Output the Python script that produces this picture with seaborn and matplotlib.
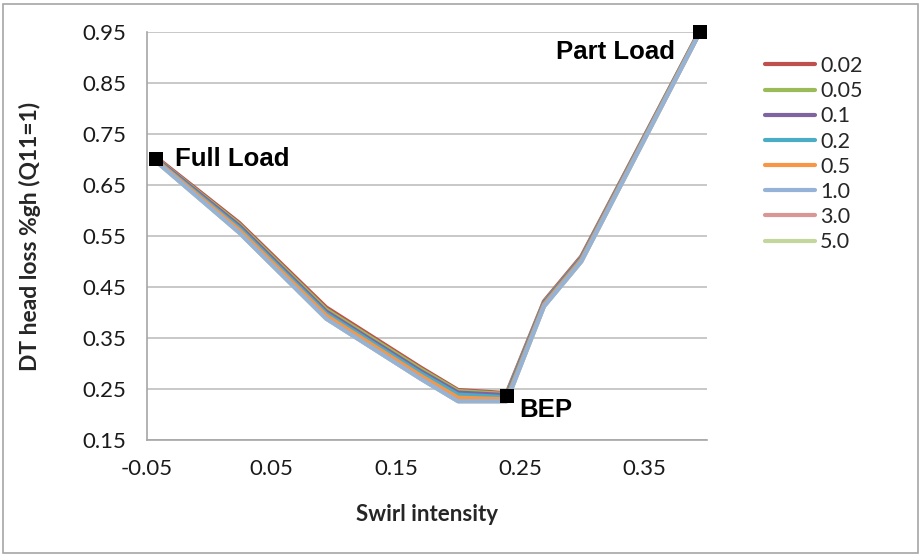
import matplotlib
matplotlib.use("Agg")
import matplotlib.pyplot as plt
import seaborn as sns
import pandas as pd
from matplotlib.patches import Rectangle

# ---- data ----
swirl = [-0.043, 0.024, 0.094, 0.170, 0.200, 0.239, 0.269, 0.299, 0.394]
series_names = ["0.02", "0.05", "0.1", "0.2", "0.5", "1.0", "3.0", "5.0"]
loss_002 = [0.705, 0.576, 0.410, 0.292, 0.248, 0.242, 0.422, 0.510, 0.952]
loss_005 = [0.703, 0.573, 0.406, 0.289, 0.246, 0.240, 0.420, 0.508, 0.951]
loss_01 = [0.702, 0.570, 0.402, 0.285, 0.243, 0.238, 0.419, 0.507, 0.950]
loss_02 = [0.700, 0.566, 0.398, 0.281, 0.239, 0.234, 0.417, 0.505, 0.950]
loss_05 = [0.699, 0.562, 0.394, 0.276, 0.233, 0.230, 0.415, 0.503, 0.949]
loss_10 = [0.697, 0.557, 0.388, 0.270, 0.226, 0.226, 0.412, 0.500, 0.948]
loss_30 = [0.697, 0.557, 0.388, 0.270, 0.226, 0.226, 0.412, 0.500, 0.948]
loss_50 = [0.697, 0.557, 0.388, 0.270, 0.226, 0.226, 0.412, 0.500, 0.948]
series_values = [loss_002, loss_005, loss_01, loss_02, loss_05, loss_10, loss_30, loss_50]
colors = ["#C0504D", "#9BBB59", "#8064A2", "#4BACC6", "#F79646", "#95B3D7", "#D99694", "#C3D69B"]

point_names = ["Full Load", "BEP", "Part Load"]
point_x = [-0.043, 0.239, 0.394]
point_y = [0.701, 0.236, 0.950]

xticks = [-0.05, 0.05, 0.15, 0.25, 0.35]
yticks = [0.15, 0.25, 0.35, 0.45, 0.55, 0.65, 0.75, 0.85, 0.95]

# ---- figure ----
sns.set_theme(style="white")
plt.rcParams["font.family"] = ["Lato", "DejaVu Sans"]

fig = plt.figure(figsize=(9.22, 5.59), dpi=100)
ax = fig.add_axes([147 / 922, 1 - 440 / 559, 560 / 922, 408 / 559])

zorders = [2.0, 2.1, 2.2, 2.3, 2.4, 2.9, 1.8, 1.9]
for name, vals, col, z in zip(series_names, series_values, colors, zorders):
    df = pd.DataFrame({"swirl": swirl, "loss": vals})
    sns.lineplot(data=df, x="swirl", y="loss", ax=ax, color=col, lw=3.0,
                 sort=False, label=name, zorder=z, estimator=None)

pts = pd.DataFrame({"x": point_x, "y": point_y, "name": point_names})
sns.scatterplot(data=pts, x="x", y="y", ax=ax, marker="s", s=110, color="black",
                edgecolor="black", linewidth=0, zorder=5, legend=False, clip_on=False)

offsets = {"Full Load": ((14, 0), "left", "center"),
           "BEP": ((9, -10), "left", "center"),
           "Part Load": ((-18, -6), "right", "top")}
for nm, px, py in zip(point_names, point_x, point_y):
    off, ha, va = offsets[nm]
    ax.annotate(nm, (px, py), xytext=off, textcoords="offset points",
                ha=ha, va=va, fontsize=18.5, fontweight="bold",
                family=["Liberation Sans", "DejaVu Sans"], color="black", zorder=6)

ax.set_xlim(-0.05, 0.40)
ax.set_ylim(0.15, 0.95)
ax.set_xticks(xticks)
ax.set_xticklabels([f"{v:.2f}" for v in xticks])
ax.set_yticks(yticks)
ax.set_yticklabels([f"{v:.2f}" for v in yticks])
ax.yaxis.grid(True, color="#BFBFBF", lw=1.2)
ax.xaxis.grid(False)
for s in ["top", "right"]:
    ax.spines[s].set_visible(False)
for s in ["left", "bottom"]:
    ax.spines[s].set_color("#A6A6A6")
    ax.spines[s].set_linewidth(1.2)
ax.tick_params(axis="both", which="major", direction="out", length=5, width=1.2,
               color="#A6A6A6", labelsize=16, labelcolor="#1a1a1a")
ax.tick_params(axis="y", pad=10)
ax.tick_params(axis="x", pad=9)

ax.set_xlabel("Swirl intensity", fontsize=16, fontweight="bold", labelpad=18)
ax.set_ylabel("DT head loss %gh (Q11=1)", fontsize=16.5, fontweight="bold", labelpad=30)

handles, labels = ax.get_legend_handles_labels()
ax.legend(handles, labels, loc="upper left", bbox_to_anchor=(765 / 922, 1 - 56 / 559),
          bbox_transform=fig.transFigure, frameon=False, fontsize=15.5,
          handlelength=2.3, handletextpad=0.25, labelspacing=0.24, borderpad=0,
          borderaxespad=0)
for line in ax.get_legend().get_lines():
    line.set_linewidth(3.0)

fig.patches.append(Rectangle((3 / 922, 6 / 559), 915 / 922, 549 / 559,
                             transform=fig.transFigure, fill=False,
                             edgecolor="#A6A6A6", lw=1.2))

fig.savefig("out.png", dpi=100)
